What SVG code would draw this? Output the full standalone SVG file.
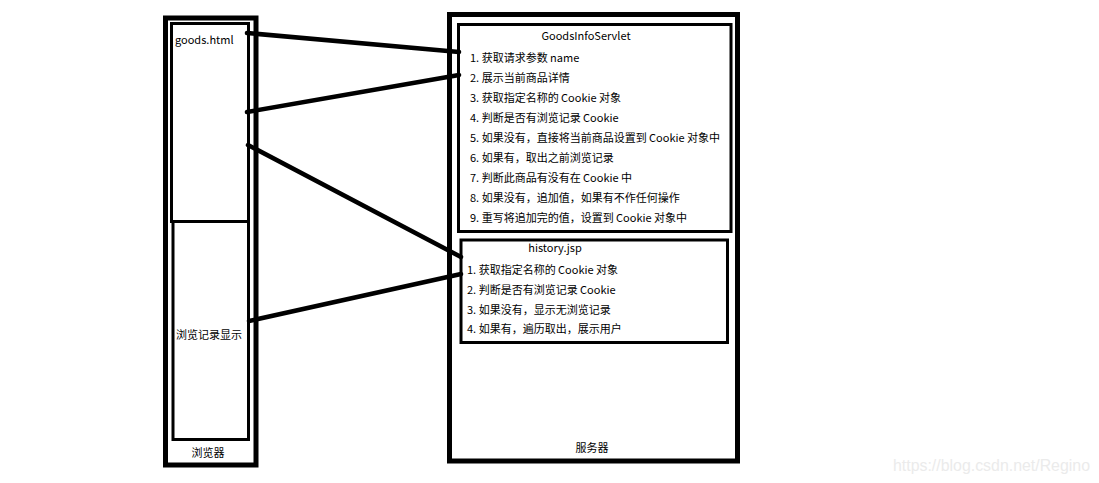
<svg xmlns="http://www.w3.org/2000/svg" width="1099" height="483" viewBox="0 0 1099 483">
<style>
.box{fill:none;stroke:#000;stroke-width:3}
.outer{fill:none;stroke:#000;stroke-width:5}
.t{font-family:"Noto Sans CJK SC","Noto Sans",sans-serif;font-size:11px;fill:#000;dominant-baseline:central}
.c{text-anchor:middle}
.wm{font-family:"Liberation Sans",Arial,sans-serif;font-size:15.9px;fill:#ebebeb;dominant-baseline:central}
.conn line{stroke:#000;stroke-width:4.5;stroke-linecap:round}
</style>
<rect width="1099" height="483" fill="#fff"/>
<g id="browser">
<rect class="outer" x="165.5" y="18" width="90.5" height="447"/>
<text class="t c" x="208" y="452">浏览器</text>
</g>
<g id="goods-html">
<rect class="box" x="171.5" y="23.5" width="77" height="198"/>
<text class="t" x="175" y="39">goods.html</text>
</g>
<g id="history-display">
<rect class="box" x="173" y="221.5" width="75.5" height="218"/>
<text class="t" x="176" y="334">浏览记录显示</text>
</g>
<g id="server">
<rect class="outer" x="449.5" y="14.5" width="288" height="446.5"/>
<text class="t c" x="592" y="447">服务器</text>
</g>
<g id="goods-info-servlet">
<rect class="box" x="458.5" y="24.5" width="272.5" height="207"/>
<text class="t c" x="586" y="35">GoodsInfoServlet</text>
<text class="t" x="470" y="57">1. 获取请求参数 name</text>
<text class="t" x="470" y="77">2. 展示当前商品详情</text>
<text class="t" x="470" y="97">3. 获取指定名称的 Cookie 对象</text>
<text class="t" x="470" y="117">4. 判断是否有浏览记录 Cookie</text>
<text class="t" x="470" y="137">5. 如果没有，直接将当前商品设置到 Cookie 对象中</text>
<text class="t" x="470" y="157">6. 如果有，取出之前浏览记录</text>
<text class="t" x="470" y="177">7. 判断此商品有没有在 Cookie 中</text>
<text class="t" x="470" y="197">8. 如果没有，追加值，如果有不作任何操作</text>
<text class="t" x="470" y="217">9. 重写将追加完的值，设置到 Cookie 对象中</text>
</g>
<g id="history-jsp">
<rect class="box" x="461" y="240" width="266.5" height="102.5"/>
<text class="t c" x="555" y="247">history.jsp</text>
<text class="t" x="467" y="269">1. 获取指定名称的 Cookie 对象</text>
<text class="t" x="467" y="289">2. 判断是否有浏览记录 Cookie</text>
<text class="t" x="467" y="309">3. 如果没有，显示无浏览记录</text>
<text class="t" x="467" y="328">4. 如果有，遍历取出，展示用户</text>
</g>
<g id="connectors" class="conn">
<line x1="247" y1="33" x2="459" y2="52"/>
<line x1="247" y1="112" x2="459" y2="75"/>
<line x1="248" y1="145" x2="461" y2="257"/>
<line x1="249" y1="321" x2="461" y2="274"/>
</g>
<text class="wm" x="893" y="465">https://blog.csdn.net/Regino</text>
</svg>
